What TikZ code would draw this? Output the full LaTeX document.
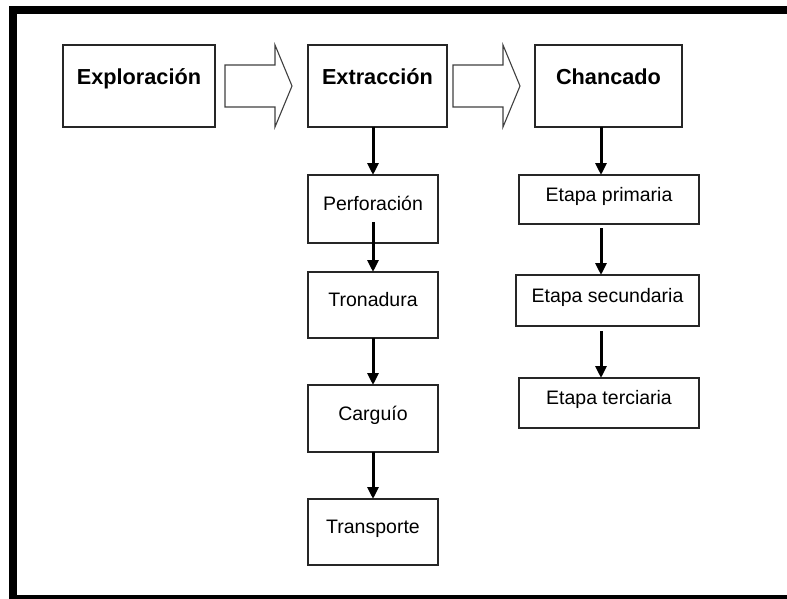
\documentclass[tikz,border=0pt]{standalone}
\usepackage{fontspec}
\setmainfont{Liberation Sans}
\usetikzlibrary{arrows.meta,calc}

\begin{document}
\begin{tikzpicture}[x=1pt, y=-1pt,
        stage/.style={draw=black!85, line width=1.3pt, inner sep=0pt, outer sep=0pt,
            font=\fontsize{21.7}{26}\selectfont\bfseries, text height=15pt, text depth=17pt},
        substage/.style={draw=black!85, line width=1.3pt, inner sep=0pt, outer sep=0pt,
            font=\fontsize{19.5}{23}\selectfont, text height=14pt, text depth=11pt},
        godown/.style={line width=3pt, -{Triangle[length=12pt, width=11pt]}},
        bigarrow/.style={draw=black!75, line width=1.1pt, fill=white, line join=miter}]
        \useasboundingbox (0, 0) rectangle (787, 599);
        % marco
        \draw[line width=8pt] (790, 599) -- (13, 599) -- (13, 10) -- (790, 10);
        % etapas principales
        \node[stage, minimum width=152pt, minimum height=82pt] (expl) at (139, 86) {Exploración};
        \node[stage, minimum width=139pt, minimum height=82pt] (extr) at (377.5, 86) {Extracción};
        \node[stage, minimum width=147pt, minimum height=82pt] (chan) at (608.5, 86) {Chancado};
        \foreach \a/\g in {expl/10, extr/6}
            \draw[bigarrow] ($(\a.east)+(\g, -21)$) -- ++(50, 0) -- ++(0, -20) -- ++(17, 41)
                -- ++(-17, 41) -- ++(0, -20) -- ++(-50, 0) -- cycle;
        % extraccion
        \node[substage, minimum width=130pt, minimum height=68pt] (perf) at (373, 209) {Perforación};
        \node[substage, minimum width=130pt, minimum height=66pt] (tron) at (373, 305) {Tronadura};
        \node[substage, minimum width=130pt, minimum height=67pt] (carg) at (373, 418.5) {Carguío};
        \node[substage, minimum width=130pt, minimum height=66pt] (trans) at (373, 532) {Transporte};
        \draw[godown] (perf.north |- extr.south) -- (perf.north);
        \draw[godown] ($(perf.south)+(0, -21)$) -- (tron.north);
        \draw[godown] (tron.south) -- (carg.north);
        \draw[godown] (carg.south) -- (trans.north);
        % chancado
        \node[substage, minimum width=180pt, minimum height=49pt] (prim) at (609, 199.5) {Etapa primaria};
        \node[substage, minimum width=183pt, minimum height=51pt] (sec) at (607.5, 300.5) {Etapa secundaria};
        \node[substage, minimum width=180pt, minimum height=50pt] (ter) at (609, 403) {Etapa terciaria};
        \coordinate (colB) at (601, 0);
        \draw[godown] (colB |- chan.south) -- (colB |- prim.north);
        \draw[godown] ($(colB |- prim.south)+(0, 4)$) -- (colB |- sec.north);
        \draw[godown] ($(colB |- sec.south)+(0, 5)$) -- (colB |- ter.north);
    \end{tikzpicture}
\end{document}
